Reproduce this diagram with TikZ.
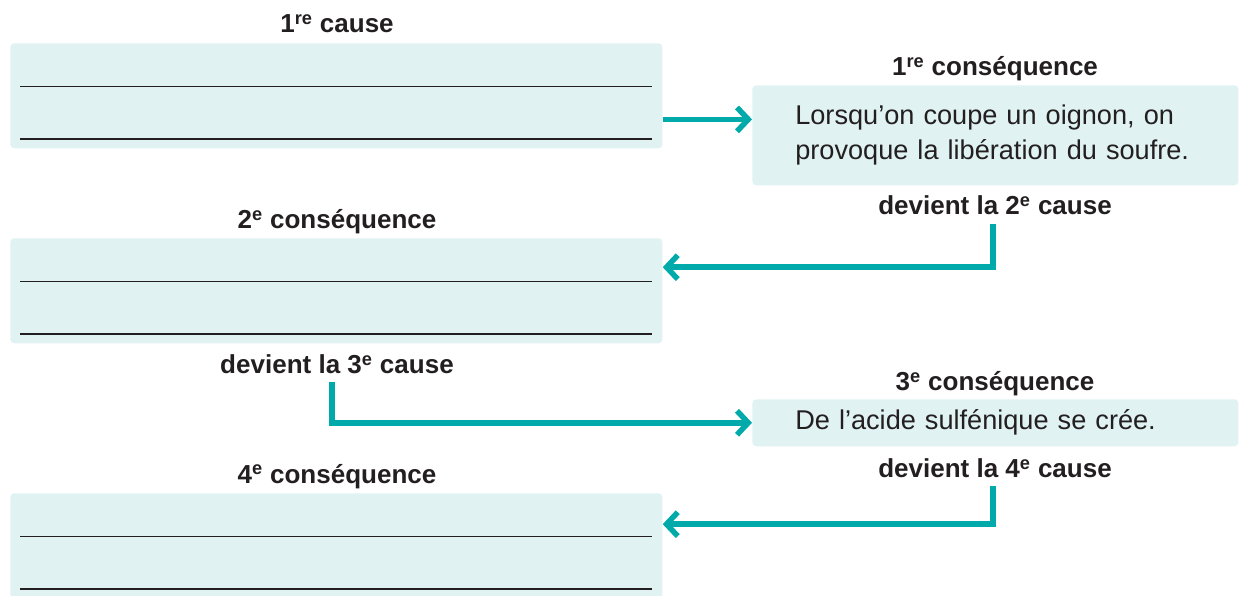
\documentclass[tikz,border=0pt]{standalone}
\usepackage{fontspec}
\setmainfont{Liberation Sans}
\usetikzlibrary{arrows.meta,calc}

\definecolor{boxfill}{HTML}{E0F2F2}
\definecolor{flowteal}{HTML}{00AAAA}
\definecolor{inkgray}{HTML}{231F20}

\newcommand\hdsize{\fontsize{18.5pt}{22pt}\selectfont}
\newcommand\txtsize{\fontsize{19.3pt}{24.9pt}\selectfont}

\tikzset{
  box/.style={fill=boxfill, rounded corners=0.1cm, anchor=north west, inner sep=0pt},
  leftbox/.style={box, minimum width=16.3cm, minimum height=2.625cm},
  rightbox/.style={box, minimum width=12.15cm, text width=10cm, inner xsep=1.075cm,
    align=left, font=\txtsize, text=inkgray},
  head/.style={font=\bfseries\hdsize, text=inkgray, anchor=base, inner sep=0pt},
  rule/.style={draw=inkgray, line width=1.1pt},
  flow/.style={draw=flowteal, line width=3.9pt, line join=miter,
    -{Straight Barb[length=8pt,width=17pt]}}
}

\begin{document}
\begin{tikzpicture}[x=0.025cm, y=-0.025cm]

\useasboundingbox (0,0) rectangle (1243,596);
\clip (0,0) rectangle (1243,596);

% boxes
\node[leftbox] (cause1)  at (10,43)  {};
\node[leftbox] (conseq2) at (10,238) {};
\node[leftbox] (conseq4) at (10,493) {};
\node[rightbox, minimum height=2.5cm] (conseq1) at (752,85)
  {Lorsqu’on coupe un oignon, on\\provoque la libération du soufre.};
\node[rightbox, minimum height=1.175cm] (conseq3) at (752,399)
  {De l’acide sulfénique se crée.};

% lines to write on
\foreach \b in {cause1,conseq2,conseq4} {
  \draw[rule] ([shift={(10,43.5)}]\b.north west) -- ++(632,0);
  \draw[rule] ([shift={(10,96)}]\b.north west) -- ++(632,0);
}

% headings
\node[head] (tcause1)  at (337,33)  {1\textsuperscript{re} cause};
\node[head] (tconseq1) at (995,76)  {1\textsuperscript{re} conséquence};
\node[head] (dev2)     at (995,215) {devient la 2\textsuperscript{e} cause};
\node[head] (tconseq2) at (337,229) {2\textsuperscript{e} conséquence};
\node[head] (dev3)     at (337,374) {devient la 3\textsuperscript{e} cause};
\node[head] (tconseq3) at (995,391) {3\textsuperscript{e} conséquence};
\node[head] (dev4)     at (995,478) {devient la 4\textsuperscript{e} cause};
\node[head] (tconseq4) at (337,483) {4\textsuperscript{e} conséquence};

% arrows
\coordinate (out1) at ([yshift=-0.59cm]cause1.east);
\draw[flow] (out1) -- (out1 -| conseq1.west);
\draw[flow] ($(dev2.south)+(-2,8)$) |- ([yshift=0.59cm]conseq2.east);
\draw[flow] ($(dev3.south)+(-5,7)$) |- (conseq3.west);
\draw[flow] ($(dev4.south)+(-2,7)$) |- ([yshift=0.54cm]conseq4.east);

\end{tikzpicture}
\end{document}
